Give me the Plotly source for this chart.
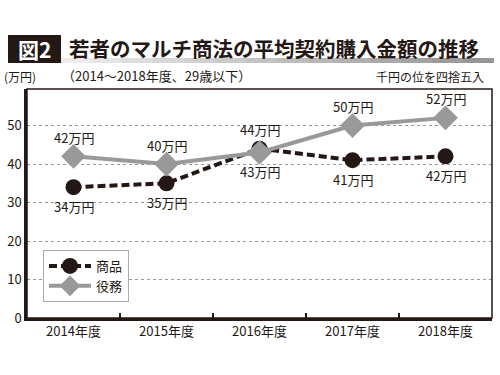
import plotly.graph_objects as go

years = ["2014年度", "2015年度", "2016年度", "2017年度", "2018年度"]
goods = [34, 35, 44, 41, 42]
services = [42, 40, 43, 50, 52]
goods_above = [False, False, True, False, False]
services_above = [True, True, False, True, True]
y_ticks = [0, 10, 20, 30, 40, 50]

FONT = "Noto Sans CJK JP, Noto Sans, sans-serif"
W, H = 500, 375
L, R, T, B = 27, 8, 89, 57
PW, PH = W - L - R, H - T - B

def px(x):
    return (x - L) / PW

def py(y):
    return (H - B - y) / PH

fig = go.Figure()
fig.add_trace(go.Scatter(
    x=years, y=goods, name="商品", mode="lines+markers",
    line=dict(color="#231815", width=4, dash="8px,4px"),
    marker=dict(symbol="circle", size=16, color="#231815"),
))
fig.add_trace(go.Scatter(
    x=years, y=services, name="役務", mode="lines+markers",
    line=dict(color="#999999", width=4),
    marker=dict(symbol="diamond", size=19, color="#999999"),
))

shapes = []
shapes.append(dict(type="rect", xref="paper", yref="paper", x0=0, x1=1, y0=0, y1=1,
                   line=dict(color="#231815", width=1.5), layer="above"))
n = 14
x0, x1 = 60, 494
for i in range(n):
    g = int(235 - (235 - 150) * i / (n - 1))
    shapes.append(dict(type="rect", xref="paper", yref="paper",
                       x0=px(x0 + (x1 - x0) * i / n), x1=px(x0 + (x1 - x0) * (i + 1) / n),
                       y0=py(63), y1=py(58), line=dict(width=0),
                       fillcolor=f"rgb({g},{g},{g})"))
shapes.append(dict(type="rect", xref="paper", yref="paper",
                   x0=px(8), x1=px(61), y0=py(63), y1=py(35),
                   line=dict(width=0), fillcolor="#231815"))

annotations = [
    dict(text="<b>図2</b>", x=px(34.5), y=py(49), xref="paper", yref="paper",
         showarrow=False, font=dict(size=21, color="white", family=FONT),
         xanchor="center", yanchor="middle"),
    dict(text="<b>若者のマルチ商法の平均契約購入金額の推移</b>", x=px(67), y=py(48),
         xref="paper", yref="paper", showarrow=False,
         font=dict(size=20.5, color="#231815", family=FONT),
         xanchor="left", yanchor="middle"),
    dict(text="(万円)", x=px(2), y=py(76), xref="paper", yref="paper", showarrow=False,
         font=dict(size=12, color="#231815", family=FONT), xanchor="left", yanchor="middle"),
    dict(text="（2014～2018年度、29歳以下）", x=px(60), y=py(75), xref="paper", yref="paper",
         showarrow=False, font=dict(size=13, color="#231815", family=FONT),
         xanchor="left", yanchor="middle"),
    dict(text="千円の位を四捨五入", x=px(486), y=py(76), xref="paper", yref="paper",
         showarrow=False, font=dict(size=12, color="#231815", family=FONT),
         xanchor="right", yanchor="middle"),
]
for series, above in ((goods, goods_above), (services, services_above)):
    for yr, v, a in zip(years, series, above):
        annotations.append(dict(
            text=f"{v}万円", x=yr, y=v, xref="x", yref="y", showarrow=False,
            yshift=19 if a else -19, xanchor="center", yanchor="middle",
            font=dict(size=13, color="#231815", family=FONT)))

fig.update_layout(
    width=W, height=H,
    margin=dict(l=L, r=R, t=T, b=B, autoexpand=False),
    paper_bgcolor="white", plot_bgcolor="white",
    font=dict(family=FONT, size=13, color="#231815"),
    showlegend=True,
    legend=dict(x=px(43), y=py(250), xanchor="left", yanchor="top",
                bgcolor="white", bordercolor="#aaaaaa", borderwidth=1,
                font=dict(size=13, family=FONT), itemwidth=42,
                tracegroupgap=4),
    shapes=shapes,
    annotations=annotations,
)
fig.update_xaxes(
    type="category", range=[-0.5, 4.5], automargin=False,
    showline=True, linecolor="#231815", linewidth=2.5,
    ticks="inside", tickson="boundaries", ticklen=5, tickwidth=2, tickcolor="#231815",
    showgrid=False, tickfont=dict(size=13, family=FONT),
)
fig.update_yaxes(
    range=[0, 59.5], tickvals=y_ticks, automargin=False,
    showline=True, linecolor="#231815", linewidth=2.5,
    ticks="", showgrid=True, gridcolor="#999999", gridwidth=1, griddash="dot",
    zeroline=False, tickfont=dict(size=13, family=FONT),
)

fig.write_html("out.html", config={"displayModeBar": False},
               post_script="document.body.style.margin='0';")
